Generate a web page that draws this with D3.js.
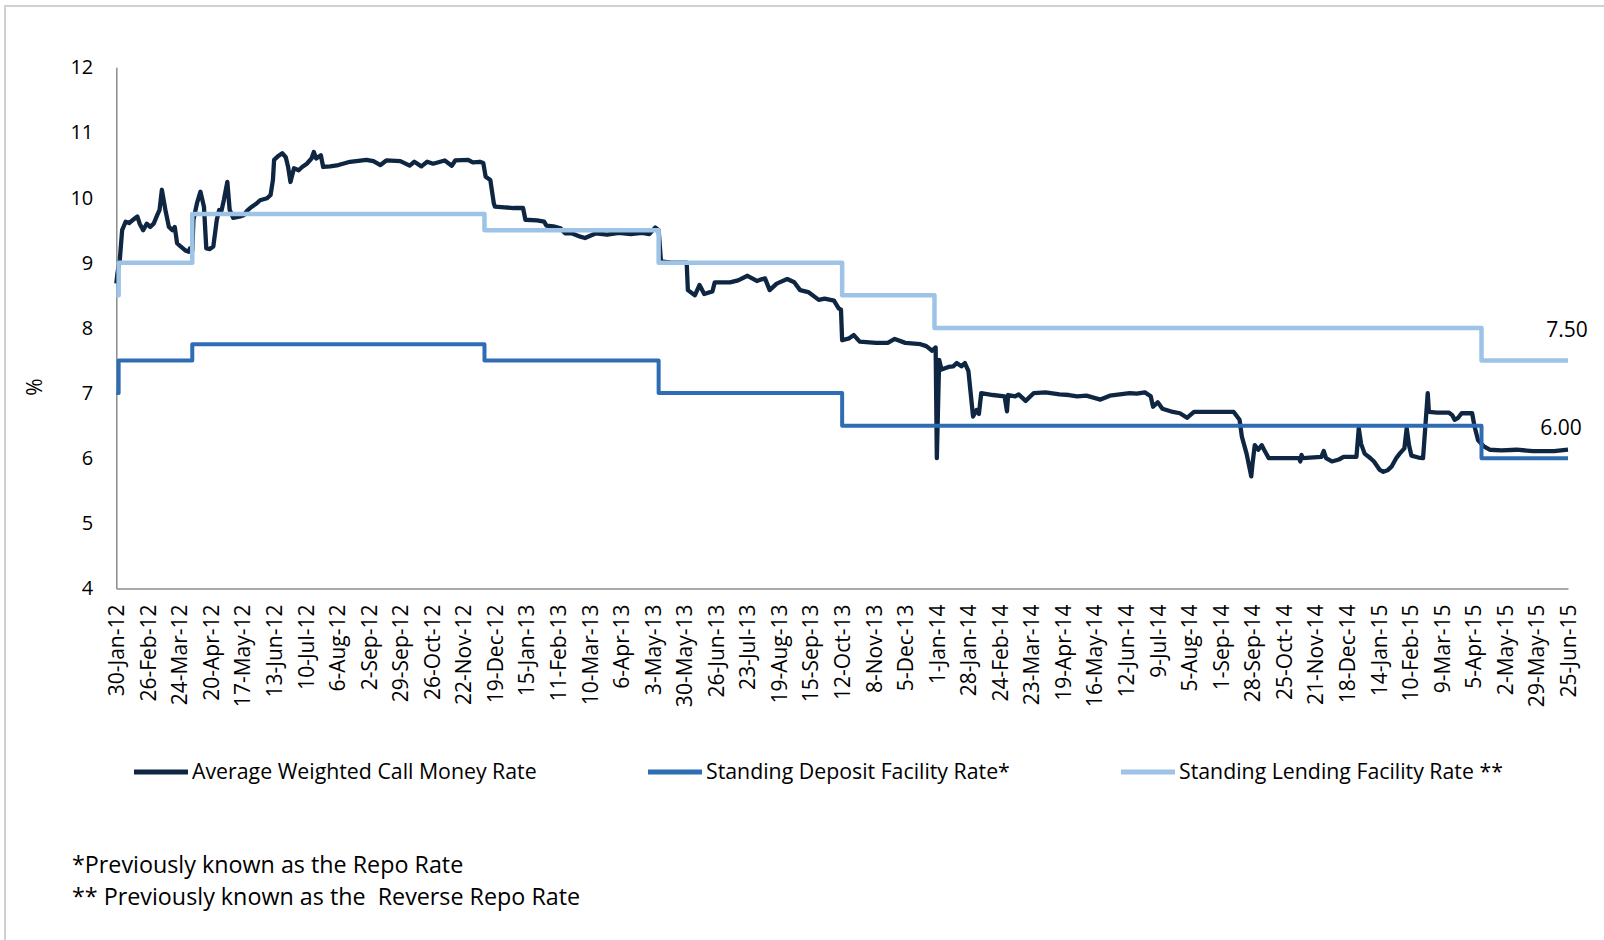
<!DOCTYPE html>
<html><head><meta charset="utf-8">
<script src="https://cdn.jsdelivr.net/npm/d3@7"></script>
<style>
body{margin:0;background:#fff;}
svg{display:block;font-family:"Open Sans",sans-serif;}
text{white-space:pre;}
</style>
</head><body><svg id="chart" width="1604" height="940"></svg>
<script>
const yTicks = [4, 5, 6, 7, 8, 9, 10, 11, 12];
const xTickLabels = ["30-Jan-12","26-Feb-12","24-Mar-12","20-Apr-12","17-May-12","13-Jun-12","10-Jul-12","6-Aug-12","2-Sep-12","29-Sep-12","26-Oct-12","22-Nov-12","19-Dec-12","15-Jan-13","11-Feb-13","10-Mar-13","6-Apr-13","3-May-13","30-May-13","26-Jun-13","23-Jul-13","19-Aug-13","15-Sep-13","12-Oct-13","8-Nov-13","5-Dec-13","1-Jan-14","28-Jan-14","24-Feb-14","23-Mar-14","19-Apr-14","16-May-14","12-Jun-14","9-Jul-14","5-Aug-14","1-Sep-14","28-Sep-14","25-Oct-14","21-Nov-14","18-Dec-14","14-Jan-15","10-Feb-15","9-Mar-15","5-Apr-15","2-May-15","29-May-15","25-Jun-15"];

const seriesNames = ["Average Weighted Call Money Rate", "Standing Deposit Facility Rate*", "Standing Lending Facility Rate **"];

const callRate = [
["2012-01-30",8.68],["2012-01-31",8.84],["2012-02-02",9.05],["2012-02-04",9.50],["2012-02-07",9.63],["2012-02-10",9.61],["2012-02-12",9.64],["2012-02-17",9.71],["2012-02-19",9.60],["2012-02-22",9.50],["2012-02-25",9.60],["2012-02-28",9.55],
["2012-03-02",9.60],["2012-03-05",9.73],["2012-03-07",9.81],["2012-03-09",10.12],["2012-03-12",9.81],["2012-03-15",9.55],["2012-03-18",9.50],["2012-03-20",9.55],["2012-03-22",9.30],["2012-03-25",9.25],["2012-03-29",9.19],
["2012-04-01",9.17],["2012-04-02",9.22],["2012-04-04",9.18],["2012-04-05",9.66],["2012-04-08",9.91],["2012-04-11",10.09],["2012-04-14",9.86],["2012-04-16",9.22],["2012-04-19",9.21],["2012-04-22",9.25],["2012-04-25",9.66],["2012-04-27",9.81],["2012-04-29",9.80],
["2012-05-01",9.96],["2012-05-04",10.24],["2012-05-06",9.81],["2012-05-09",9.69],["2012-05-15",9.71],["2012-05-18",9.73],["2012-05-21",9.80],["2012-05-25",9.86],["2012-05-29",9.91],
["2012-06-01",9.96],["2012-06-07",9.99],["2012-06-10",10.04],["2012-06-12",10.27],["2012-06-13",10.58],["2012-06-16",10.63],["2012-06-20",10.68],["2012-06-23",10.62],["2012-06-25",10.47],["2012-06-27",10.24],["2012-06-30",10.45],
["2012-07-04",10.42],["2012-07-07",10.47],["2012-07-11",10.52],["2012-07-15",10.60],["2012-07-17",10.70],["2012-07-19",10.60],["2012-07-23",10.65],["2012-07-25",10.47],["2012-07-31",10.48],
["2012-08-07",10.50],["2012-08-17",10.55],["2012-08-31",10.58],["2012-09-06",10.56],["2012-09-12",10.50],["2012-09-17",10.57],["2012-09-29",10.56],
["2012-10-07",10.49],["2012-10-11",10.55],["2012-10-17",10.48],["2012-10-22",10.55],["2012-10-27",10.52],["2012-11-06",10.57],["2012-11-12",10.49],["2012-11-15",10.57],["2012-11-26",10.58],["2012-11-30",10.54],
["2012-12-06",10.55],["2012-12-09",10.53],["2012-12-11",10.32],["2012-12-15",10.27],["2012-12-18",9.91],["2012-12-19",9.86],["2012-12-27",9.85],
["2013-01-04",9.84],["2013-01-12",9.84],["2013-01-14",9.66],["2013-01-24",9.65],["2013-01-30",9.63],["2013-02-01",9.57],["2013-02-07",9.56],["2013-02-13",9.53],["2013-02-17",9.45],["2013-02-23",9.45],
["2013-03-02",9.40],["2013-03-06",9.38],["2013-03-15",9.45],["2013-03-25",9.43],["2013-04-04",9.46],["2013-04-14",9.44],["2013-04-24",9.46],["2013-04-30",9.44],
["2013-05-05",9.54],["2013-05-08",9.50],["2013-05-10",9.02],["2013-05-19",9.00],["2013-06-01",9.00],["2013-06-02",8.58],["2013-06-08",8.50],["2013-06-12",8.66],["2013-06-16",8.52],["2013-06-23",8.56],["2013-06-25",8.70],
["2013-07-08",8.70],["2013-07-15",8.73],["2013-07-23",8.80],["2013-07-31",8.72],["2013-08-03",8.74],["2013-08-07",8.76],["2013-08-11",8.58],["2013-08-17",8.68],["2013-08-26",8.75],
["2013-09-01",8.70],["2013-09-06",8.58],["2013-09-13",8.55],["2013-09-22",8.43],["2013-09-27",8.45],["2013-10-05",8.42],["2013-10-09",8.30],["2013-10-11",8.28],["2013-10-12",7.81],["2013-10-18",7.84],["2013-10-22",7.89],["2013-10-27",7.79],
["2013-11-10",7.77],["2013-11-20",7.77],["2013-11-26",7.83],["2013-12-05",7.77],["2013-12-18",7.75],["2013-12-23",7.72],["2013-12-28",7.65],["2013-12-31",7.70],
["2014-01-01",6.00],["2014-01-03",7.51],["2014-01-05",7.36],["2014-01-11",7.40],["2014-01-15",7.41],["2014-01-18",7.46],["2014-01-22",7.41],["2014-01-25",7.46],["2014-01-28",7.34],
["2014-02-01",6.64],["2014-02-04",6.74],["2014-02-06",6.68],["2014-02-08",7.00],["2014-02-18",6.97],["2014-02-28",6.95],["2014-03-02",6.72],["2014-03-03",6.97],["2014-03-09",6.95],["2014-03-12",6.98],["2014-03-18",6.88],["2014-03-25",7.00],
["2014-04-04",7.01],["2014-04-16",6.98],["2014-04-24",6.97],["2014-05-01",6.95],["2014-05-09",6.96],["2014-05-21",6.90],["2014-05-29",6.96],["2014-06-15",7.00],["2014-06-21",6.99],["2014-06-28",7.01],
["2014-07-03",6.95],["2014-07-05",6.79],["2014-07-09",6.86],["2014-07-13",6.76],["2014-07-22",6.71],["2014-07-28",6.69],["2014-08-03",6.62],["2014-08-09",6.71],["2014-08-17",6.71],
["2014-09-01",6.71],["2014-09-12",6.71],["2014-09-17",6.59],["2014-09-19",6.33],["2014-09-23",6.07],["2014-09-27",5.72],["2014-09-28",5.90],["2014-09-30",6.20],
["2014-10-03",6.13],["2014-10-06",6.20],["2014-10-08",6.13],["2014-10-12",6.00],["2014-11-07",6.00],["2014-11-08",5.95],["2014-11-09",6.05],["2014-11-10",6.00],["2014-11-26",6.02],["2014-11-28",6.11],["2014-11-30",6.00],
["2014-12-05",5.95],["2014-12-11",5.98],["2014-12-15",6.02],["2014-12-26",6.02],["2014-12-28",6.46],["2014-12-30",6.22],
["2015-01-02",6.07],["2015-01-07",6.00],["2015-01-10",5.95],["2015-01-15",5.82],["2015-01-18",5.79],["2015-01-22",5.82],["2015-01-25",5.87],["2015-01-29",6.00],
["2015-02-01",6.07],["2015-02-05",6.15],["2015-02-07",6.46],["2015-02-09",6.20],["2015-02-11",6.04],["2015-02-17",6.01],["2015-02-21",6.00],["2015-02-23",6.50],["2015-02-25",7.00],["2015-02-26",6.71],
["2015-03-05",6.70],["2015-03-15",6.70],["2015-03-18",6.66],["2015-03-20",6.59],["2015-03-23",6.62],["2015-03-26",6.69],
["2015-04-04",6.69],["2015-04-06",6.49],["2015-04-09",6.28],["2015-04-14",6.18],["2015-04-19",6.13],["2015-04-29",6.12],["2015-05-12",6.13],["2015-05-26",6.11],["2015-06-13",6.11],["2015-06-25",6.13]
];

const depositRate = [["2012-01-30",7.00],["2012-02-01",7.50],["2012-04-04",7.75],["2012-12-10",7.50],["2013-05-08",7.00],["2013-10-12",6.50],["2015-04-12",6.00],["2015-06-25",6.00]];
const lendingRate = [["2012-01-30",8.50],["2012-02-01",9.00],["2012-04-04",9.75],["2012-12-10",9.50],["2013-05-08",9.00],["2013-10-12",8.50],["2013-12-30",8.00],["2015-04-12",7.50],["2015-06-25",7.50]];

const endLabels = ["7.50", "6.00"];
const footnotes = ["*Previously known as the Repo Rate", "** Previously known as the  Reverse Repo Rate"];

const colors = ["#0f2642", "#2e6db4", "#9dc3e6"];

const parseISO = d3.timeParse("%Y-%m-%d");
const parseTick = d3.timeParse("%d-%b-%y");
const toPts = arr => arr.map(([d, v]) => ({date: parseISO(d), value: v}));

const svg = d3.select("#chart");

// outer frame
svg.append("rect").attr("x", 5).attr("y", 6).attr("width", 1700).attr("height", 1000)
  .attr("fill", "none").attr("stroke", "#d0d0d0").attr("stroke-width", 2);

const x = d3.scaleTime().domain([parseISO("2012-01-30"), parseISO("2015-06-25")]).range([116.3, 1568]);
const y = d3.scaleLinear().domain([4, 12]).range([588.5, 67.3]);

// y axis
const yAxis = svg.append("g").attr("transform", "translate(116.3,0)")
  .call(d3.axisLeft(y).tickValues(yTicks).tickSize(0).tickPadding(23).tickFormat(d3.format("d")));
yAxis.select(".domain").attr("stroke", "#8c8c8c").attr("stroke-width", 1.5);
yAxis.selectAll("text").attr("font-size", 20).attr("fill", "#000").attr("font-family", "Open Sans");

// x axis
const xAxis = svg.append("g").attr("transform", "translate(0,588.5)")
  .call(d3.axisBottom(x).tickValues(xTickLabels.map(parseTick)).tickSize(0).tickFormat((d, i) => xTickLabels[i]));
xAxis.select(".domain").attr("stroke", "#8c8c8c").attr("stroke-width", 1.5);
xAxis.selectAll("text")
  .attr("font-size", 21).attr("fill", "#000").attr("font-family", "Open Sans")
  .attr("text-anchor", "end").attr("transform", "rotate(-90)")
  .attr("x", -16).attr("y", 0).attr("dy", "0.35em");

// % label
svg.append("text").attr("transform", "translate(35,387) rotate(-90)")
  .attr("text-anchor", "middle").attr("dy", "0.35em").attr("font-size", 21).text("%");

const stepLine = d3.line().x(d => x(d.date)).y(d => y(d.value)).curve(d3.curveStepAfter);
const plainLine = d3.line().x(d => x(d.date)).y(d => y(d.value));

svg.append("path").datum(toPts(callRate)).attr("d", plainLine)
  .attr("fill", "none").attr("stroke", colors[0]).attr("stroke-width", 4.3).attr("stroke-linejoin", "round");
svg.append("path").datum(toPts(depositRate)).attr("d", stepLine)
  .attr("fill", "none").attr("stroke", colors[1]).attr("stroke-width", 4).attr("stroke-linejoin", "round");
svg.append("path").datum(toPts(lendingRate)).attr("d", stepLine)
  .attr("fill", "none").attr("stroke", colors[2]).attr("stroke-width", 4.5).attr("stroke-linejoin", "round");

// end labels
const lastL = toPts(lendingRate).slice(-1)[0], lastD = toPts(depositRate).slice(-1)[0];
svg.append("text").attr("x", x(lastL.date) - 1).attr("y", y(lastL.value) - 31).attr("dy", "0.35em")
  .attr("text-anchor", "middle").attr("font-size", 21).text(endLabels[0]);
svg.append("text").attr("x", x(lastD.date) - 7).attr("y", y(lastD.value) - 31).attr("dy", "0.35em")
  .attr("text-anchor", "middle").attr("font-size", 21).text(endLabels[1]);

// legend
const legendX = [134, 648, 1121];
seriesNames.forEach((name, i) => {
  const g = svg.append("g").attr("transform", `translate(${legendX[i]},772)`);
  g.append("line").attr("x1", 0).attr("x2", 54).attr("y1", 0).attr("y2", 0)
    .attr("stroke", colors[i]).attr("stroke-width", 5);
  g.append("text").attr("x", 58).attr("dy", "0.35em").attr("font-size", 21.3).attr("fill", "#000").text(name);
});

// footnotes
footnotes.forEach((t, i) => {
  svg.append("text").attr("x", 72).attr("y", 865 + i * 31.5).attr("dy", "0.35em")
    .attr("font-size", 23.3).attr("fill", "#000").text(t);
});
</script></body></html>
